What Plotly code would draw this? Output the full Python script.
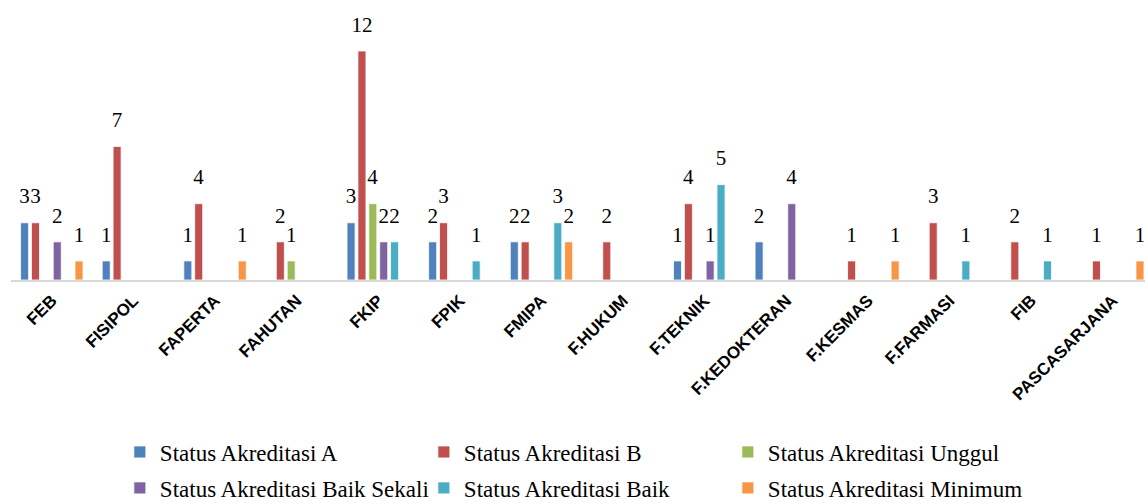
import plotly.graph_objects as go

faculties = ["FEB", "FISIPOL", "FAPERTA", "FAHUTAN", "FKIP", "FPIK", "FMIPA",
             "F.HUKUM", "F.TEKNIK", "F.KEDOKTERAN", "F.KESMAS", "F.FARMASI",
             "FIB", "PASCASARJANA"]

status_a = [3, 1, 1, None, 3, 2, 2, None, 1, 2, None, None, None, None]
status_b = [3, 7, 4, 2, 12, 3, 2, 2, 4, None, 1, 3, 2, 1]
status_unggul = [None, None, None, 1, 4, None, None, None, None, None, None, None, None, None]
status_baik_sekali = [2, None, None, None, 2, None, None, None, 1, 4, None, None, None, None]
status_baik = [None, None, None, None, 2, 1, 3, None, 5, None, None, 1, 1, None]
status_minimum = [1, None, 1, None, None, None, 2, None, None, None, 1, None, None, 1]

# (name, values, colour, legend row)
series = [
    ("Status Akreditasi A", status_a, "#4F81BD", "legend"),
    ("Status Akreditasi B", status_b, "#C0504D", "legend"),
    ("Status Akreditasi Unggul", status_unggul, "#9BBB59", "legend"),
    ("Status Akreditasi Baik Sekali", status_baik_sekali, "#8064A2", "legend2"),
    ("Status Akreditasi Baik", status_baik, "#4BACC6", "legend2"),
    ("Status Akreditasi Minimum", status_minimum, "#F79646", "legend2"),
]

SERIF = "Times New Roman, Liberation Serif, serif"

# value label with a small invisible second line that lifts it off the bar top
label_template = ("<span style='font-size:21px'>%{y}</span>"
                  "<br><span style='color:rgba(0,0,0,0)'>.</span>")

fig = go.Figure()
for name, values, color, legend_id in series:
    fig.add_trace(go.Bar(
        name=name,
        x=faculties,
        y=values,
        legend=legend_id,
        marker=dict(color=color, line=dict(color="rgba(255,255,255,0.8)", width=1)),
        texttemplate=label_template,
        textposition="outside",
        textangle=0,
        constraintext="none",
        textfont=dict(family=SERIF, size=11, color="#000000"),
        cliponaxis=False,
    ))

legend_common = dict(
    orientation="h",
    x=0.096, xanchor="left",
    yanchor="middle",
    entrywidth=259, entrywidthmode="pixels",
    font=dict(family=SERIF, size=23, color="#000000"),
    itemclick=False, itemdoubleclick=False,
    bgcolor="rgba(0,0,0,0)",
)

fig.update_layout(
    width=1145,
    height=504,
    margin=dict(l=11, r=0, t=51, b=224, autoexpand=False),
    paper_bgcolor="#FFFFFF",
    plot_bgcolor="#FFFFFF",
    barmode="group",
    bargap=0.2,
    bargroupgap=0.26,
    showlegend=True,
    legend=dict(legend_common, y=-0.751),
    legend2=dict(legend_common, y=-0.908),
    xaxis=dict(
        range=[-0.5, 13.395],
        showline=True, linecolor="#D9D9D9", linewidth=2,
        showgrid=False, ticks="",
        tickangle=-45,
        ticklabelstandoff=2,
        tickfont=dict(family="Liberation Sans", size=17, color="#000000", weight="bold"),
    ),
    yaxis=dict(
        range=[0, 12],
        visible=False,
        showgrid=False,
        zeroline=False,
    ),
)

fig.write_html("out.html")
